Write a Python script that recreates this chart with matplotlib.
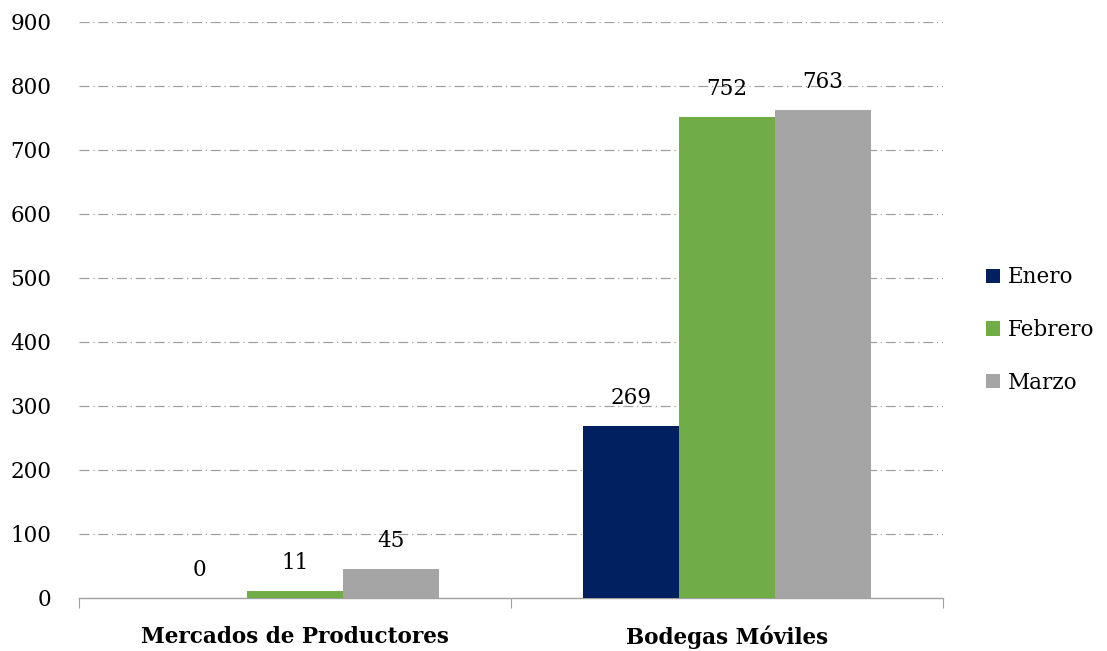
import matplotlib
matplotlib.use("Agg")
import matplotlib.pyplot as plt
import numpy as np
from matplotlib.patches import Patch

categories = ["Mercados de Productores", "Bodegas Móviles"]
series_names = ["Enero", "Febrero", "Marzo"]
enero = [0, 269]
febrero = [11, 752]
marzo = [45, 763]
colors = ["#002060", "#70AD47", "#A5A5A5"]
yticks = [0, 100, 200, 300, 400, 500, 600, 700, 800, 900]

plt.rcParams['font.family'] = ['DejaVu Serif']
FS = 15.5

fig = plt.figure(figsize=(11.07, 6.51), dpi=100)
ax = fig.add_axes([79/1107, 1 - 598/651, (943-79)/1107, (598-22)/651])

x = np.arange(len(categories))
w = 2/9
for i, (vals, name, c) in enumerate(zip([enero, febrero, marzo], series_names, colors)):
    pos = x + (i - 1) * w
    ax.bar(pos, vals, width=w, color=c, label=name, zorder=3)
    for xp, v in zip(pos, vals):
        ax.annotate(str(v), (xp, v), xytext=(0, 20), textcoords="offset points",
                    ha="center", va="center", fontsize=FS, color="black")

ax.set_xlim(-0.5, 1.5)
ax.set_ylim(0, 900)
ax.set_yticks(yticks)
ax.set_yticklabels([str(t) for t in yticks], fontsize=FS)
ax.tick_params(axis='y', length=0, pad=20)
ax.set_xticks([-0.5, 0.5, 1.5], minor=False)
ax.set_xticklabels([])
ax.set_xticks(x, minor=True)
ax.set_xticklabels(categories, minor=True, fontsize=FS, fontweight='bold')
ax.tick_params(axis='x', which='major', length=7, color='#A0A0A0', direction='out')
ax.tick_params(axis='x', which='minor', length=0, pad=20)

for t in yticks[1:]:
    ax.axhline(t, color='#A0A0A0', lw=0.9, ls=(0, (8, 3, 1, 3)), zorder=1)

for s in ['top', 'right', 'left']:
    ax.spines[s].set_visible(False)
ax.spines['bottom'].set_color('#A0A0A0')
ax.spines['bottom'].set_linewidth(1)

handles = [Patch(facecolor=c, label=n) for c, n in zip(colors, series_names)]
fig.legend(handles=handles, loc='center left', bbox_to_anchor=(986/1107, 1 - 330/651),
           frameon=False, fontsize=FS, handlelength=0.65, handleheight=0.65,
           handletextpad=0.35, labelspacing=1.42, borderaxespad=0, borderpad=0)

fig.savefig("out.png", dpi=100)
